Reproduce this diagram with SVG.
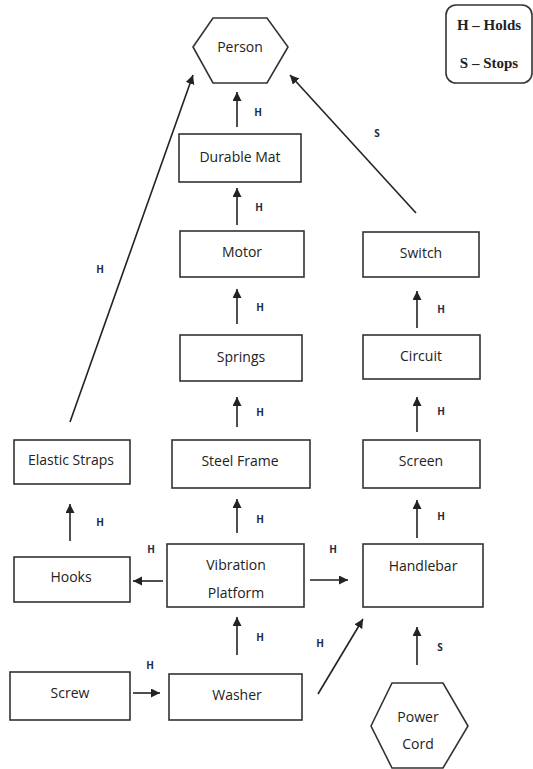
<svg xmlns="http://www.w3.org/2000/svg" width="533" height="769" viewBox="0 0 533 769">
<style>
.box{fill:#fff;stroke:#333;stroke-width:1.6}
.t{font-family:"Open Sans","Liberation Sans",sans-serif;font-size:14px;fill:#222;text-anchor:middle;dominant-baseline:central}
.lbl{font-family:"Open Sans","Liberation Sans",sans-serif;font-size:10px;font-weight:bold;fill:#1e2a44;text-anchor:middle;dominant-baseline:central}
.leg{font-family:"Liberation Serif",serif;font-size:15px;font-weight:bold;fill:#222;text-anchor:middle;dominant-baseline:central}
.c line{stroke:#222;stroke-width:1.6;fill:none;marker-end:url(#ah)}
</style>
<defs>
<marker id="ah" markerUnits="userSpaceOnUse" markerWidth="10" markerHeight="10" refX="9" refY="4.5" orient="auto">
<path d="M0,0 L9,4.5 L0,9 z" fill="#222"/>
</marker>
</defs>
<rect width="533" height="769" fill="#fff"/>

<g id="legend">
<rect x="446" y="5" width="86" height="78" rx="10" ry="10" class="box"/>
<text class="leg" x="489" y="25">H – Holds</text>
<text class="leg" x="489" y="63">S – Stops</text>
</g>

<g id="person">
<polygon class="box" points="193,47 213,18 267,18 288,47 267,83 213,83"/>
<text class="t" x="240" y="46">Person</text>
</g>
<g id="durable-mat">
<rect class="box" x="179" y="134" width="122" height="48"/>
<text class="t" x="240" y="156">Durable Mat</text>
</g>
<g id="motor">
<rect class="box" x="180" y="231" width="124" height="46"/>
<text class="t" x="242" y="251">Motor</text>
</g>
<g id="springs">
<rect class="box" x="180" y="335" width="122" height="46"/>
<text class="t" x="241" y="356">Springs</text>
</g>
<g id="steel-frame">
<rect class="box" x="172" y="440" width="138" height="48"/>
<text class="t" x="240" y="460">Steel Frame</text>
</g>
<g id="vibration-platform">
<rect class="box" x="167" y="544" width="137" height="63"/>
<text class="t" x="236" y="564">Vibration</text>
<text class="t" x="236" y="592">Platform</text>
</g>
<g id="washer">
<rect class="box" x="169" y="674" width="133" height="46"/>
<text class="t" x="237" y="694">Washer</text>
</g>
<g id="screw">
<rect class="box" x="10" y="672" width="120" height="48"/>
<text class="t" x="70" y="692">Screw</text>
</g>
<g id="hooks">
<rect class="box" x="14" y="557" width="116" height="45"/>
<text class="t" x="71" y="576">Hooks</text>
</g>
<g id="elastic-straps">
<rect class="box" x="14" y="440" width="116" height="44"/>
<text class="t" x="71" y="459">Elastic Straps</text>
</g>
<g id="switch">
<rect class="box" x="363" y="232" width="116" height="45"/>
<text class="t" x="421" y="252">Switch</text>
</g>
<g id="circuit">
<rect class="box" x="363" y="335" width="117" height="44"/>
<text class="t" x="421" y="355">Circuit</text>
</g>
<g id="screen">
<rect class="box" x="363" y="440" width="117" height="48"/>
<text class="t" x="421" y="460">Screen</text>
</g>
<g id="handlebar">
<rect class="box" x="363" y="544" width="120" height="63"/>
<text class="t" x="423" y="565">Handlebar</text>
</g>
<g id="power-cord">
<polygon class="box" points="371,726 392,683 443,683 468,726 443,768 392,768"/>
<text class="t" x="418" y="716">Power</text>
<text class="t" x="418" y="743">Cord</text>
</g>

<g id="connectors" class="c">
<line x1="237" y1="127" x2="237" y2="92"/>
<line x1="237" y1="225" x2="237" y2="188"/>
<line x1="237" y1="324" x2="237" y2="289"/>
<line x1="237" y1="427" x2="237" y2="397"/>
<line x1="237" y1="533" x2="237" y2="499"/>
<line x1="237" y1="655" x2="237" y2="617"/>
<line x1="133" y1="693" x2="160" y2="693"/>
<line x1="318" y1="694" x2="363" y2="619"/>
<line x1="163" y1="581" x2="133" y2="581"/>
<line x1="310" y1="580" x2="348" y2="580"/>
<line x1="70" y1="541" x2="70" y2="504"/>
<line x1="70" y1="422" x2="193" y2="75"/>
<line x1="416" y1="213" x2="290" y2="75"/>
<line x1="417" y1="328" x2="417" y2="291"/>
<line x1="417" y1="432" x2="417" y2="397"/>
<line x1="417" y1="538" x2="417" y2="500"/>
<line x1="417" y1="665" x2="417" y2="627"/>
</g>

<g id="connector-labels">
<text class="lbl" x="258" y="112">H</text>
<text class="lbl" x="259" y="207">H</text>
<text class="lbl" x="260" y="307">H</text>
<text class="lbl" x="260" y="412">H</text>
<text class="lbl" x="260" y="519">H</text>
<text class="lbl" x="260" y="637">H</text>
<text class="lbl" x="150" y="665">H</text>
<text class="lbl" x="320" y="643">H</text>
<text class="lbl" x="151" y="549">H</text>
<text class="lbl" x="333" y="549">H</text>
<text class="lbl" x="100" y="522">H</text>
<text class="lbl" x="100" y="269">H</text>
<text class="lbl" x="377" y="133">S</text>
<text class="lbl" x="441" y="309">H</text>
<text class="lbl" x="441" y="411">H</text>
<text class="lbl" x="441" y="516">H</text>
<text class="lbl" x="440" y="647">S</text>
</g>
</svg>
